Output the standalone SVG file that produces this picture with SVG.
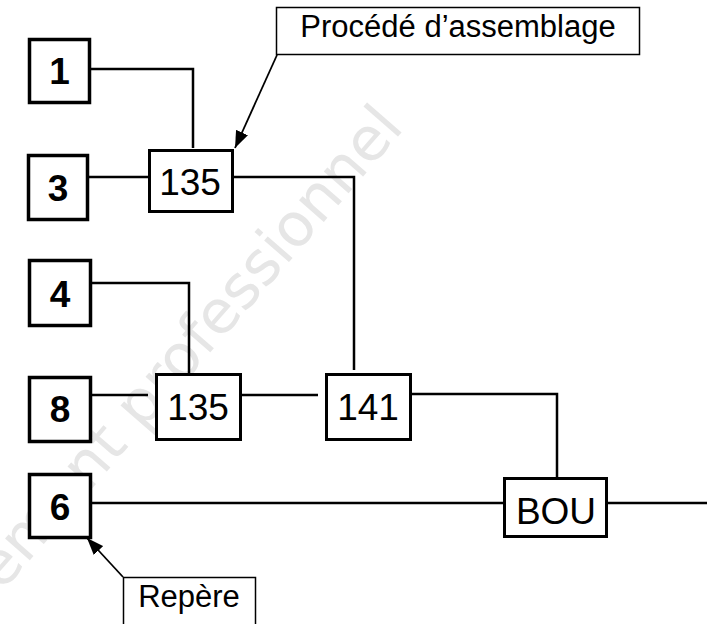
<svg xmlns="http://www.w3.org/2000/svg" width="707" height="624" viewBox="0 0 707 624">
<style>
.box{fill:#fff;stroke:#000;stroke-width:3.5}
.pbox{fill:#fff;stroke:#000;stroke-width:3}
.lbl{fill:#fff;stroke:#000;stroke-width:1.5}
.wire{fill:none;stroke:#000;stroke-width:2.5}
.arr{fill:none;stroke:#000;stroke-width:1.8}
.num{font-family:"Liberation Sans",Arial,sans-serif;font-weight:bold;font-size:37px;text-anchor:middle;fill:#000}
.proc{font-family:"Liberation Sans",Arial,sans-serif;font-size:37px;text-anchor:middle;fill:#000}
.note{font-family:"Liberation Sans",Arial,sans-serif;font-size:31px;text-anchor:middle;fill:#000}
.wm{font-family:"DejaVu Sans","Noto Sans",sans-serif;font-size:60px;fill:#e6e6e6}
</style>
<defs>
<marker id="ah2" viewBox="0 0 10 10" refX="10" refY="5" markerWidth="17" markerHeight="13" markerUnits="userSpaceOnUse" orient="auto" preserveAspectRatio="none">
<path d="M0,0 L10,5 L0,10 z" fill="#000"/>
</marker>
</defs>
<rect width="707" height="624" fill="#fff"/>
<text class="wm" transform="translate(2,592) rotate(-49)">ement professionnel</text>
<g id="connectors">
<path class="wire" d="M91 69 H193 V148"/>
<path class="wire" d="M89 177 H148"/>
<path class="wire" d="M234 177 H354 V370"/>
<path class="wire" d="M92 283 H189 V373"/>
<path class="wire" d="M92 395 H148"/>
<path class="wire" d="M234 395 H318"/>
<path class="wire" d="M405 394 H557 V477"/>
<path class="wire" d="M92 503 H503"/>
<path class="wire" d="M608 503 H707"/>
<line class="arr" x1="277" y1="55" x2="235" y2="148" marker-end="url(#ah2)"/>
<line class="arr" x1="123" y1="577" x2="87" y2="538" marker-end="url(#ah2)"/>
</g>
<g id="n1"><rect class="box" x="29.5" y="39.5" width="60" height="63"/><text class="num" x="59.5" y="84">1</text></g>
<g id="n3"><rect class="box" x="28.5" y="155.5" width="59" height="64"/><text class="num" x="58" y="201">3</text></g>
<g id="n4"><rect class="box" x="29.5" y="260.5" width="61" height="65"/><text class="num" x="60" y="307">4</text></g>
<g id="n8"><rect class="box" x="29.5" y="377.5" width="61" height="64"/><text class="num" x="60" y="422">8</text></g>
<g id="n6"><rect class="box" x="29.5" y="474.5" width="61" height="63"/><text class="num" x="60" y="520">6</text></g>
<g id="p135a"><rect class="pbox" x="149.5" y="150.5" width="83" height="61"/><text class="proc" x="190" y="195">135</text></g>
<g id="p135b"><rect class="pbox" x="156.5" y="374.5" width="84" height="65"/><text class="proc" x="198" y="420">135</text></g>
<g id="p141"><rect class="pbox" x="326.5" y="374.5" width="84" height="65"/><text class="proc" x="368" y="420">141</text></g>
<g id="pBOU"><rect class="pbox" x="504.5" y="478.5" width="102" height="58"/><text class="proc" x="556" y="524">BOU</text></g>
<g id="lblProcede"><rect class="lbl" x="276.5" y="7.5" width="363" height="47"/><text class="note" x="458" y="37">Procédé d’assemblage</text></g>
<g id="lblRepere"><rect class="lbl" x="123.5" y="577.5" width="132" height="60"/><text class="note" x="189" y="607">Repère</text></g>
</svg>
